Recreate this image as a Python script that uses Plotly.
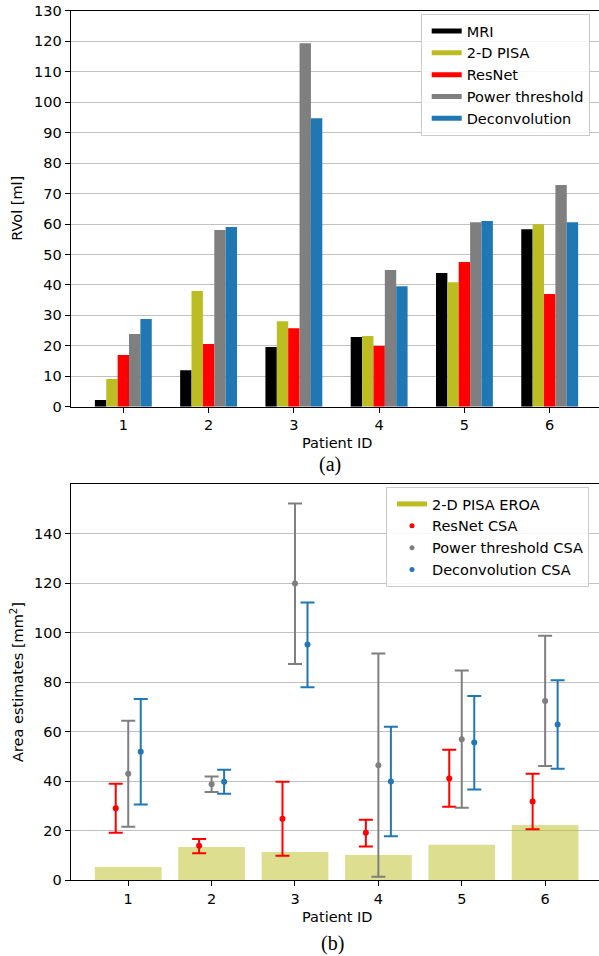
import plotly.graph_objects as go

# ---------------- data ----------------
patients = [1, 2, 3, 4, 5, 6]

# (a) regurgitant volume [ml]
mri = [2.2, 12.0, 19.6, 22.9, 43.9, 58.3]
pisa = [9.1, 38.0, 28.1, 23.2, 40.9, 59.9]
resnet = [17.0, 20.6, 25.8, 19.9, 47.5, 37.0]
power = [23.9, 58.0, 119.4, 44.9, 60.6, 72.8]
deconv = [28.8, 59.0, 94.7, 39.6, 61.0, 60.6]

# (b) area estimates [mm^2]
pisa_eroa = [5.3, 13.3, 11.3, 10.1, 14.2, 22.2]
resnet_csa = [29.0, 13.8, 24.7, 19.1, 41.0, 31.7]
resnet_hi = [38.9, 16.6, 39.7, 24.3, 52.6, 42.9]
resnet_lo = [19.1, 10.8, 9.8, 13.5, 29.6, 20.5]
power_csa = [42.9, 38.7, 119.8, 46.4, 56.9, 72.3]
power_hi = [64.3, 41.8, 152.1, 91.5, 84.6, 98.7]
power_lo = [21.5, 35.6, 87.3, 1.3, 29.2, 46.1]
deconv_csa = [51.8, 39.7, 95.2, 39.8, 55.6, 62.8]
deconv_hi = [73.1, 44.5, 112.1, 61.9, 74.3, 80.7]
deconv_lo = [30.5, 34.8, 77.9, 17.7, 36.6, 44.9]

top_names = ["MRI", "2-D PISA", "ResNet", "Power threshold", "Deconvolution"]
top_colors = ["#000000", "#bcbd22", "#ff0000", "#7f7f7f", "#1f77b4"]
top_values = [mri, pisa, resnet, power, deconv]

FONT = "DejaVu Sans"
FS = 14.5
W, H = 599, 956

fig = go.Figure()

# ---- (a) grouped bars ----
for name, vals, col in zip(top_names, top_values, top_colors):
    fig.add_trace(go.Bar(x=patients, y=vals, name=name, marker=dict(color=col, line=dict(width=0)),
                         showlegend=False, xaxis="x", yaxis="y"))
# legend handles as thick lines
for name, col in zip(top_names, top_colors):
    fig.add_trace(go.Scatter(x=[None], y=[None], mode="lines", name=name,
                             line=dict(color=col, width=5), legend="legend",
                             xaxis="x", yaxis="y"))

# ---- (b) bars + error bars ----
fig.add_trace(go.Bar(x=patients, y=pisa_eroa, width=0.8, name="2-D PISA EROA",
                     marker=dict(color="rgba(188,189,34,0.5)", line=dict(width=0)),
                     showlegend=False, xaxis="x2", yaxis="y2"))

offset = 0.15
csa_sets = [
    ("ResNet CSA", resnet_csa, resnet_hi, resnet_lo, "#ff0000", -offset),
    ("Power threshold CSA", power_csa, power_hi, power_lo, "#7f7f7f", 0.0),
    ("Deconvolution CSA", deconv_csa, deconv_hi, deconv_lo, "#1f77b4", offset),
]
for name, c, hi, lo, col, off in csa_sets:
    fig.add_trace(go.Scatter(
        x=[p + off for p in patients], y=c, mode="markers", name=name,
        marker=dict(color=col, size=6),
        error_y=dict(type="data", symmetric=False,
                     array=[h - v for h, v in zip(hi, c)],
                     arrayminus=[v - l for v, l in zip(c, lo)],
                     color=col, thickness=2, width=7),
        showlegend=False, xaxis="x2", yaxis="y2"))

fig.add_trace(go.Scatter(x=[None], y=[None], mode="lines", name="2-D PISA EROA",
                         line=dict(color="#bcbd22", width=5), legend="legend2",
                         xaxis="x2", yaxis="y2"))
for name, c, hi, lo, col, off in csa_sets:
    fig.add_trace(go.Scatter(x=[None], y=[None], mode="markers", name=name,
                             marker=dict(color=col, size=5), legend="legend2",
                             xaxis="x2", yaxis="y2"))

x0 = 70.7 / W
ax_common = dict(ticks="outside", ticklen=5, tickwidth=1.3, tickcolor="black",
                 showline=True, linecolor="black", linewidth=1.3,
                 zeroline=False, tickfont=dict(family=FONT, size=FS, color="black"))

legend_style = dict(bgcolor="rgba(255,255,255,0.85)", bordercolor="#cccccc", borderwidth=1,
                    font=dict(family=FONT, size=FS, color="black"),
                    xanchor="left", yanchor="top", tracegroupgap=0, indentation=5)

fig.update_layout(
    width=W, height=H, margin=dict(l=0, r=0, t=0, b=0, autoexpand=False),
    paper_bgcolor="white", plot_bgcolor="white",
    font=dict(family=FONT, size=FS, color="black"),
    barmode="group", bargap=0.333, bargroupgap=0,
    xaxis=dict(domain=[x0, 1], range=[0.383, 6.578], tickvals=patients, anchor="y",
               mirror=True, showgrid=False, **ax_common),
    yaxis=dict(domain=[1 - 406.7 / H, 1 - 10.9 / H], range=[0, 130], dtick=10, anchor="x",
               showgrid=True, gridcolor="#c0c0c0", gridwidth=1.4, **ax_common),
    xaxis2=dict(domain=[x0, 1], range=[0.31, 6.646], tickvals=patients, anchor="y2",
                mirror=True, showgrid=False, **ax_common),
    yaxis2=dict(domain=[1 - 880 / H, 1 - 484 / H], range=[0, 160],
                tickvals=[0, 20, 40, 60, 80, 100, 120, 140], anchor="x2",
                showgrid=True, gridcolor="#c0c0c0", gridwidth=1.4, **ax_common),
    legend=dict(x=420.7 / W, y=1 - 14 / H, **legend_style),
    legend2=dict(x=386 / W, y=1 - 487 / H, **legend_style),
)

ann = [
    dict(text="RVol [ml]", x=17 / W, y=1 - 208.8 / H, textangle=-90),
    dict(text="Area estimates [mm<sup>2</sup>]", x=17 / W, y=1 - 682 / H, textangle=-90),
    dict(text="Patient ID", x=337 / W, y=1 - 443 / H),
    dict(text="Patient ID", x=337 / W, y=1 - 917 / H),
]
for a in ann:
    fig.add_annotation(xref="paper", yref="paper", showarrow=False, xanchor="center",
                       yanchor="middle", font=dict(family=FONT, size=FS, color="black"), **a)
for txt, xx, yy in [("(a)", 330, 465), ("(b)", 332, 943)]:
    fig.add_annotation(text=txt, xref="paper", yref="paper", x=xx / W, y=1 - yy / H,
                       showarrow=False, xanchor="center", yanchor="middle",
                       font=dict(family="Liberation Serif", size=20, color="black"))

fig.write_html("out.html", config={"displayModeBar": False},
               post_script="document.body.style.margin='0';document.body.style.overflow='hidden';")
